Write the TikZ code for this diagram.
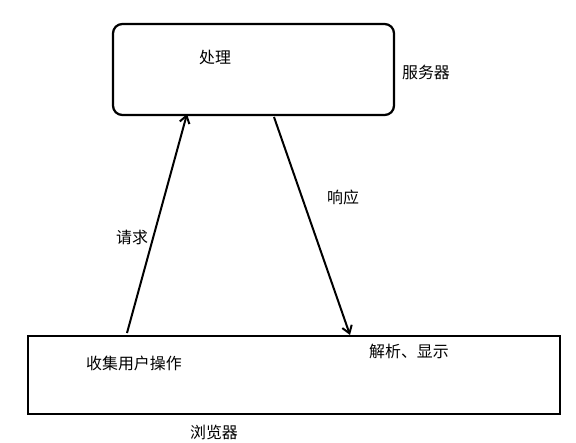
\documentclass[tikz,border=0pt]{standalone}
\usepackage{fontspec}
\setmainfont{Noto Sans CJK SC}
\usepackage{tikz}
\usetikzlibrary{positioning,arrows.meta}

\begin{document}
\begin{tikzpicture}[x=0.03cm, y=-0.03cm]
    \tikzstyle{box}=[rectangle, draw=black, line width=1.9pt, inner sep=0pt]
    \tikzstyle{connect}=[-{Straight Barb[length=2.2mm, width=3mm]}, line width=1.7pt]
    \tikzstyle{txt}=[inner sep=0pt, font=\fontsize{13.6}{16}\selectfont]
    \useasboundingbox (0,0) rectangle (576,443);
      % server
      \node[box, rounded corners=8pt, minimum width=281*0.03cm, minimum height=91*0.03cm] (server) at (253.5,69.5) {};
      \node[txt] (process) at (215,57) {处理};
      \node[txt] (server-label) at (426,72) {服务器};
      % browser
      \node[box, minimum width=532*0.03cm, minimum height=78*0.03cm] (browser) at (294,375) {};
      \node[txt] (collect) at (134,363) {收集用户操作};
      \node[txt] (parse) at (409,351) {解析、显示};
      \node[txt] (browser-label) at (214,432) {浏览器};
      % request / response
      \coordinate (req-from) at (127,333);
      \coordinate (req-to) at (187,114);
      \coordinate (resp-from) at (274,117);
      \coordinate (resp-to) at (350,335);
      \draw[connect] (req-from) -- (req-to);
      \draw[connect] (resp-from) -- (resp-to);
      \node[txt] (request) at (132,237) {请求};
      \node[txt] (response) at (343,197) {响应};
\end{tikzpicture}
\end{document}
